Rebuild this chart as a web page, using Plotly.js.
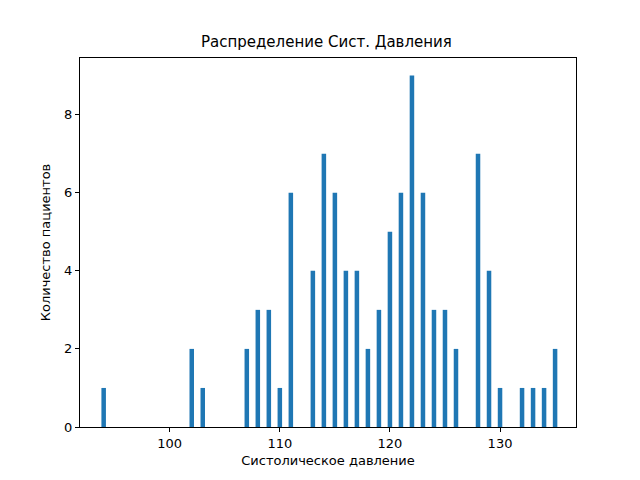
<!DOCTYPE html>
<html><head><meta charset="utf-8">
<script src="https://cdn.plot.ly/plotly-3.0.1.min.js"></script>
</head><body style="margin:0">
<div id="chart" style="width:640px;height:480px"></div>
<script>
// systolic pressure values and number of patients for each
const pressures = [94, 102, 103, 107, 108, 109, 110, 111, 113, 114, 115, 116, 117, 118, 119,
  120, 121, 122, 123, 124, 125, 126, 128, 129, 130, 132, 133, 134, 135];
const counts = [1, 2, 1, 2, 3, 3, 1, 6, 4, 7, 6, 4, 4, 2, 3,
  5, 6, 9, 6, 3, 3, 2, 7, 4, 1, 1, 1, 1, 2];
const xTicks = [100, 110, 120, 130];
const yTicks = [0, 2, 4, 6, 8];

const axisStyle = {
  showline: true, mirror: true, linecolor: '#000', linewidth: 1,
  ticks: 'outside', ticklen: 4, tickcolor: '#000',
  showgrid: false, zeroline: false,
  tickfont: {size: 13, color: '#000'}
};

Plotly.newPlot('chart', [{
  type: 'bar', x: pressures, y: counts, width: 0.41,
  marker: {color: '#1f77b4'}
}], {
  width: 640, height: 480,
  margin: {l: 80, r: 64, t: 58, b: 53},
  paper_bgcolor: '#fff', plot_bgcolor: '#fff',
  font: {family: 'DejaVu Sans', color: '#000'},
  title: {text: 'Распределение Сист. Давления', font: {size: 15}, x: 0.51, y: 0.925},
  xaxis: Object.assign({}, axisStyle, {range: [91.85, 136.9], tickvals: xTicks,
    title: {text: 'Систолическое давление', font: {size: 13}, standoff: 6}}),
  yaxis: Object.assign({}, axisStyle, {range: [0, 9.45], tickvals: yTicks,
    title: {text: 'Количество пациентов', font: {size: 13}, standoff: 10}}),
  showlegend: false
}, {displayModeBar: false});
</script>
</body></html>
